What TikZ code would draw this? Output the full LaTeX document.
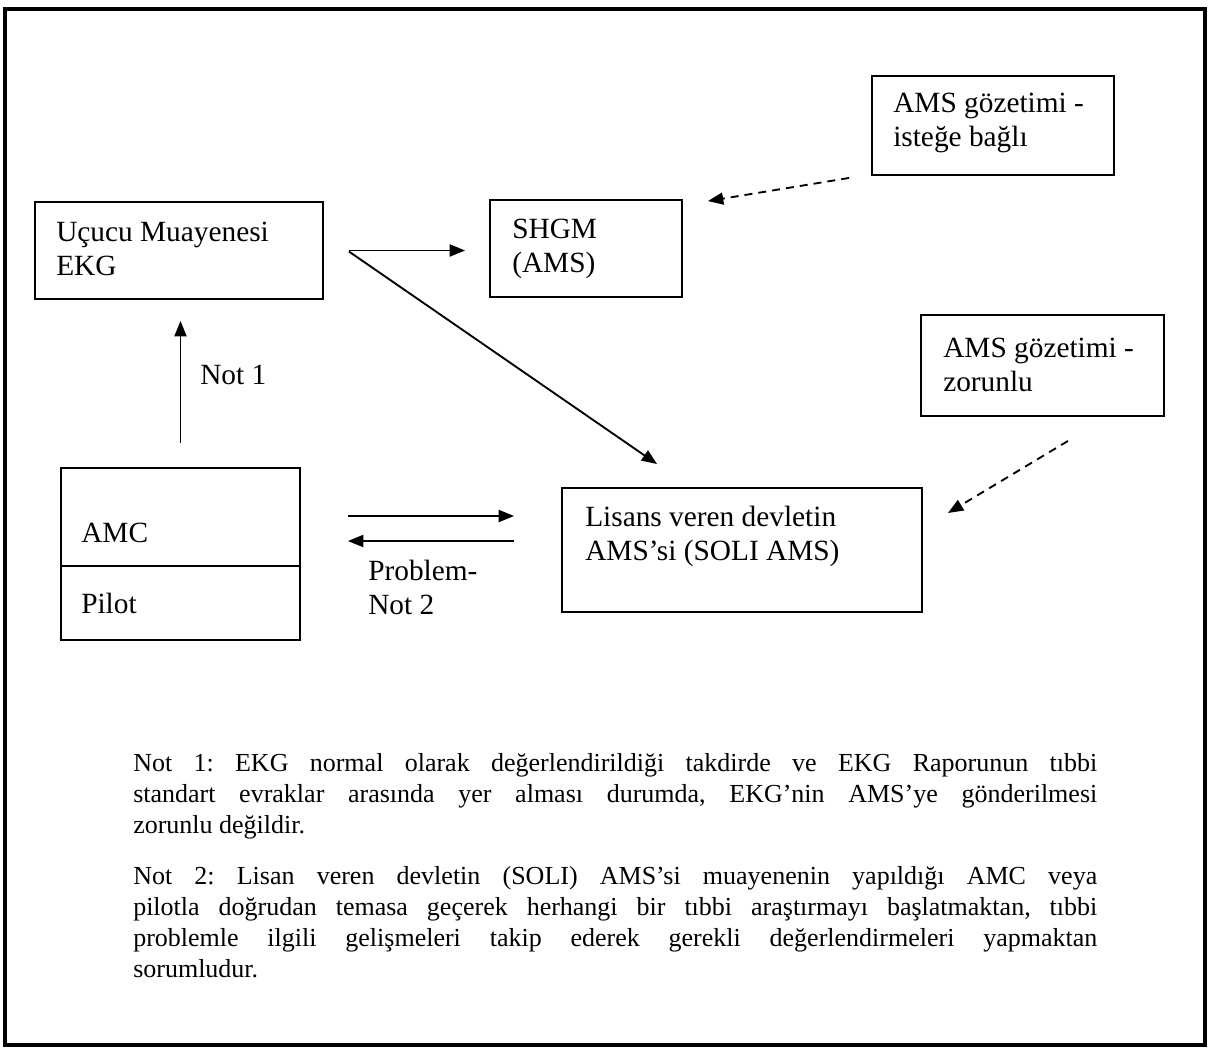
\documentclass[tikz,border=0pt]{standalone}
\usepackage{fontspec}
\setmainfont{Liberation Serif}
\usetikzlibrary{arrows.meta}
\begin{document}
\begin{tikzpicture}[x=0.75pt,y=-0.75pt,
  box/.style={draw, line width=1.4pt, inner sep=0pt},
  lbl/.style={anchor=west, inner sep=0pt, font=\fontsize{22}{25.5}\selectfont, align=left},
  arr/.style={line width=1.4pt, -{Triangle[length=11.5pt,width=9pt]}},
  darr/.style={arr, dash pattern=on 6pt off 4.5pt},
  notebox/.style={anchor=north west, inner sep=0pt, text width=723pt, align=justify,
    font=\fontsize{19.5}{23.25}\selectfont\frenchspacing}
]
\useasboundingbox (0,0) rectangle (1210,1051);
\draw[line width=2.4pt] (5,9) rectangle (1205,1045);

% boxes
\node[box, minimum width=216pt, minimum height=72.75pt] (ucucu) at (179,250.5) {};
\node[box, minimum width=144pt, minimum height=72.75pt] (shgm) at (586,248.5) {};
\node[box, minimum width=181.5pt, minimum height=74.25pt] (ist) at (993,125.5) {};
\node[box, minimum width=182.25pt, minimum height=75.75pt] (zor) at (1042.5,365.5) {};
\node[box, minimum width=270pt, minimum height=93pt] (lis) at (742,550) {};
\node[box, minimum width=179.25pt, minimum height=73.5pt] (amc) at (180.5,517) {};
\node[box, minimum width=179.25pt, minimum height=55.5pt] (pilot) at (180.5,603) {};

% box texts
\node[lbl] (tucucu) at (56,249) {Uçucu Muayenesi\\EKG};
\node[lbl] (tshgm) at (512,249) {SHGM\\(AMS)};
\node[lbl] (tist) at (893,122.5) {AMS gözetimi -\\isteğe bağlı};
\node[lbl] (tzor) at (943,364.5) {AMS gözetimi -\\zorunlu};
\node[lbl] (tlis) at (585,536) {Lisans veren devletin\\AMS'si (SOLI AMS)};
\node[lbl] (tamc) at (81,533) {AMC};
\node[lbl] (tpilot) at (81,603) {Pilot};

% connector labels
\node[lbl] (lnot1) at (200,375) {Not 1};
\node[lbl] (lprob) at (368,587) {Problem-\\Not 2};

% connectors
\draw[arr] ([shift={(25,0)}]ucucu.east) -- ([shift={(-24,0)}]shgm.west |- ucucu.east);
\draw[arr] ([shift={(25,1)}]ucucu.east) -- ([shift={(96,-23)}]lis.north west);
\draw[arr] ([shift={(0,-24)}]amc.north) -- ([shift={(0,21)}]amc.north |- ucucu.south);
\draw[arr] ([shift={(47,-1)}]amc.east) -- ([shift={(-47,-34)}]lis.west);
\draw[arr] ([shift={(-47,-9)}]lis.west) -- ([shift={(47,24)}]amc.east);
\draw[darr] ([shift={(-22,2)}]ist.south west) -- ([shift={(25,2)}]shgm.north east);
\draw[darr] ([shift={(25.5,24)}]zor.south) -- ([shift={(25,-37)}]lis.east);

% notes
\node[notebox] (note1) at (133,753) {Not 1: EKG normal olarak değerlendirildiği takdirde ve EKG Raporunun tıbbi\linebreak
standart evraklar arasında yer alması durumda, EKG'nin AMS'ye gönderilmesi\linebreak
zorunlu değildir.};
\node[notebox] (note2) at (133,866) {Not 2: Lisan veren devletin (SOLI) AMS'si muayenenin yapıldığı AMC veya\linebreak
pilotla doğrudan temasa geçerek herhangi bir tıbbi araştırmayı başlatmaktan, tıbbi\linebreak
problemle ilgili gelişmeleri takip ederek gerekli değerlendirmeleri yapmaktan\linebreak
sorumludur.};
\end{tikzpicture}
\end{document}
